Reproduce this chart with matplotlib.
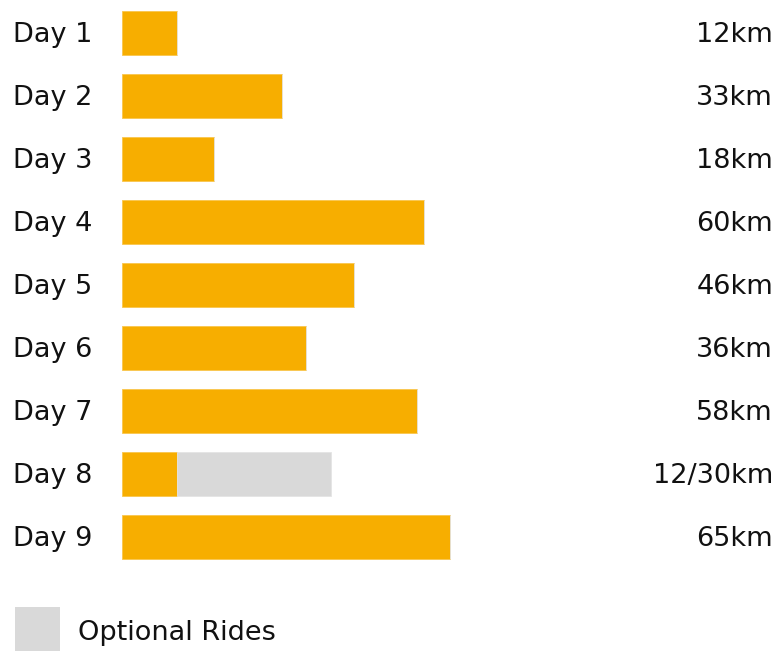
import matplotlib.pyplot as plt
from matplotlib.patches import Rectangle
from matplotlib.transforms import blended_transform_factory

plt.rcParams['font.family'] = ['DejaVu Sans']

days = ["Day 1", "Day 2", "Day 3", "Day 4", "Day 5", "Day 6", "Day 7", "Day 8", "Day 9"]
# bar lengths as drawn (km)
distance = [10.9, 31.7, 18.2, 59.8, 45.9, 36.4, 58.4, 10.9, 64.9]
optional = [0, 0, 0, 0, 0, 0, 0, 30.5, 0]
labels = ["12km", "33km", "18km", "60km", "46km", "36km", "58km", "12/30km", "65km"]

W, H = 777, 651
fig = plt.figure(figsize=(W / 100, H / 100), dpi=100)
# axes in pixel terms: x from 122 to 777, rows of 63px starting at top
ax = fig.add_axes([122 / W, (H - 568.5) / H, (W - 122) / W, 567 / H])
ax.set_xlim(0, 655 / 5.05)
ax.set_ylim(len(days) - 0.5, -0.5)
ax.axis('off')

y = range(len(days))
ax.barh(y, distance, height=0.71, color='#F7AE00', edgecolor='#F9C64D', linewidth=0.6)
ax.barh(y, optional, left=distance, height=0.71, color='#D9D9D9', edgecolor='#E4E4E4', linewidth=0.6)

tr = blended_transform_factory(fig.transFigure, ax.transData)
for i, d in enumerate(days):
    ax.text(13 / W, i + 0.03, d, transform=tr, ha='left', va='center', fontsize=19.5, color='#111111')
    ax.text(773 / W, i + 0.03, labels[i], transform=tr, ha='right', va='center', fontsize=19.5, color='#111111')

# legend
fig.add_artist(Rectangle((15 / W, 0), 45 / W, 44 / H, transform=fig.transFigure,
                         facecolor='#D9D9D9', edgecolor='none'))
fig.text(78 / W, (H - 633) / H, "Optional Rides", ha='left', va='center', fontsize=19.5, color='#111111')

fig.savefig("out.png", dpi=100)
